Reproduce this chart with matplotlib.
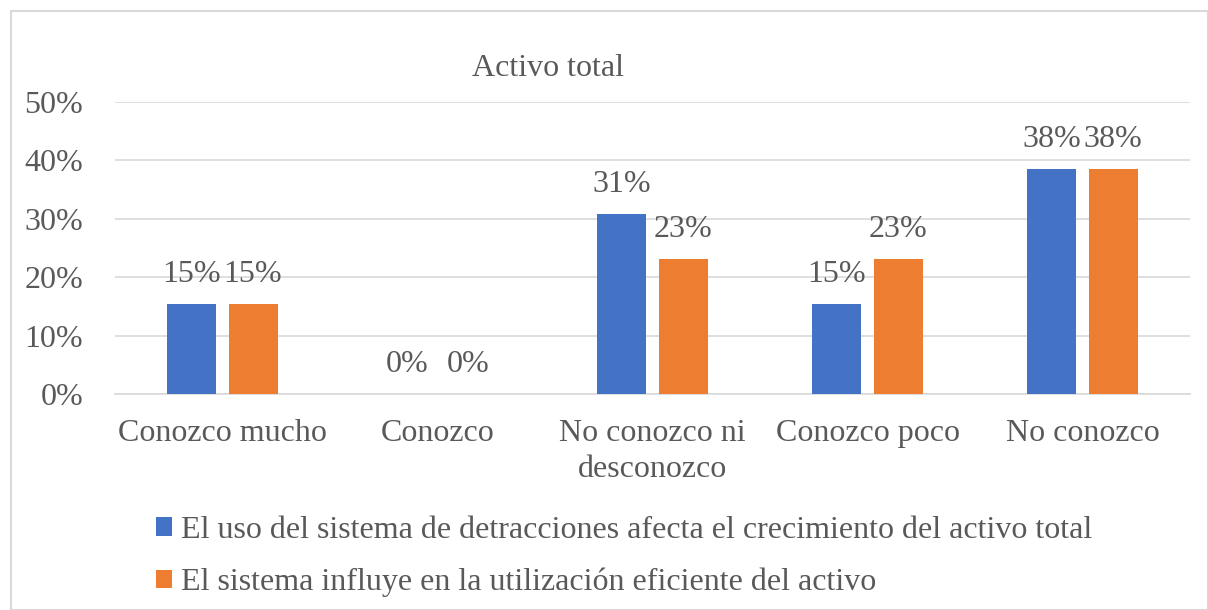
import numpy as np
import matplotlib
matplotlib.use("Agg")
import matplotlib.pyplot as plt
from matplotlib.patches import Rectangle

categories = ["Conozco mucho", "Conozco", "No conozco ni\ndesconozco", "Conozco poco", "No conozco"]
serie_1 = [0.1538, 0.0, 0.3077, 0.1538, 0.3846]
serie_2 = [0.1538, 0.0, 0.2308, 0.2308, 0.3846]
labels = ["El uso del sistema de detracciones afecta el crecimiento del activo total",
          "El sistema influye en la utilización eficiente del activo"]
colors = ["#4472C4", "#ED7D31"]
text_col = "#595959"
fs = 23

plt.rcParams["font.family"] = ["Liberation Serif", "DejaVu Serif"]

fig = plt.figure(figsize=(12.08, 6.1), dpi=100)
ax = fig.add_axes([115 / 1208, 1 - 394 / 610, (1190 - 115) / 1208, (394 - 102) / 610])

x = np.arange(len(categories))
w = 0.228
off = 0.142
b1 = ax.bar(x - off, serie_1, w, color=colors[0], label=labels[0], zorder=3)
b2 = ax.bar(x + off, serie_2, w, color=colors[1], label=labels[1], zorder=3)

for bars, vals in [(b1, serie_1), (b2, serie_2)]:
    for r, v in zip(bars, vals):
        ax.annotate(f"{v:.0%}", (r.get_x() + r.get_width() / 2, v), xytext=(0, 11),
                    textcoords="offset points", ha="center", va="bottom",
                    fontsize=fs, color=text_col)

ax.set_xlim(-0.5, len(categories) - 0.5)
ax.set_ylim(0, 0.5)
ax.set_yticks(np.arange(0, 0.51, 0.1))
ax.set_yticklabels([f"{t:.0%}" for t in np.arange(0, 0.51, 0.1)])
ax.set_xticks(x)
ax.set_xticklabels(categories, linespacing=1.3)
ax.tick_params(axis="both", length=0, labelsize=fs, labelcolor=text_col)
ax.tick_params(axis="y", pad=23)
ax.tick_params(axis="x", pad=18)
ax.grid(axis="y", color="#D9D9D9", linewidth=1.2, zorder=0)
for s in ["top", "right", "left"]:
    ax.spines[s].set_visible(False)
ax.spines["bottom"].set_color("#D9D9D9")
ax.spines["bottom"].set_linewidth(1.2)

fig.text(548 / 1208, 1 - 68 / 610, "Activo total", ha="center", va="center",
         fontsize=fs, color=text_col)

fig.legend(handles=[b1, b2], labels=labels, loc="upper left",
           bbox_to_anchor=(143 / 1208, 1 - 503 / 610), frameon=False,
           fontsize=fs, labelcolor=text_col, handlelength=0.5, handleheight=0.5,
           handletextpad=0.3, labelspacing=0.72, borderaxespad=0)

fig.patches.append(Rectangle((11 / 1208, 0), 1 - 11 / 1208, 1 - 11 / 610,
                             transform=fig.transFigure, fill=False,
                             edgecolor="#D9D9D9", linewidth=1.5))

fig.savefig("out.png", dpi=100)
